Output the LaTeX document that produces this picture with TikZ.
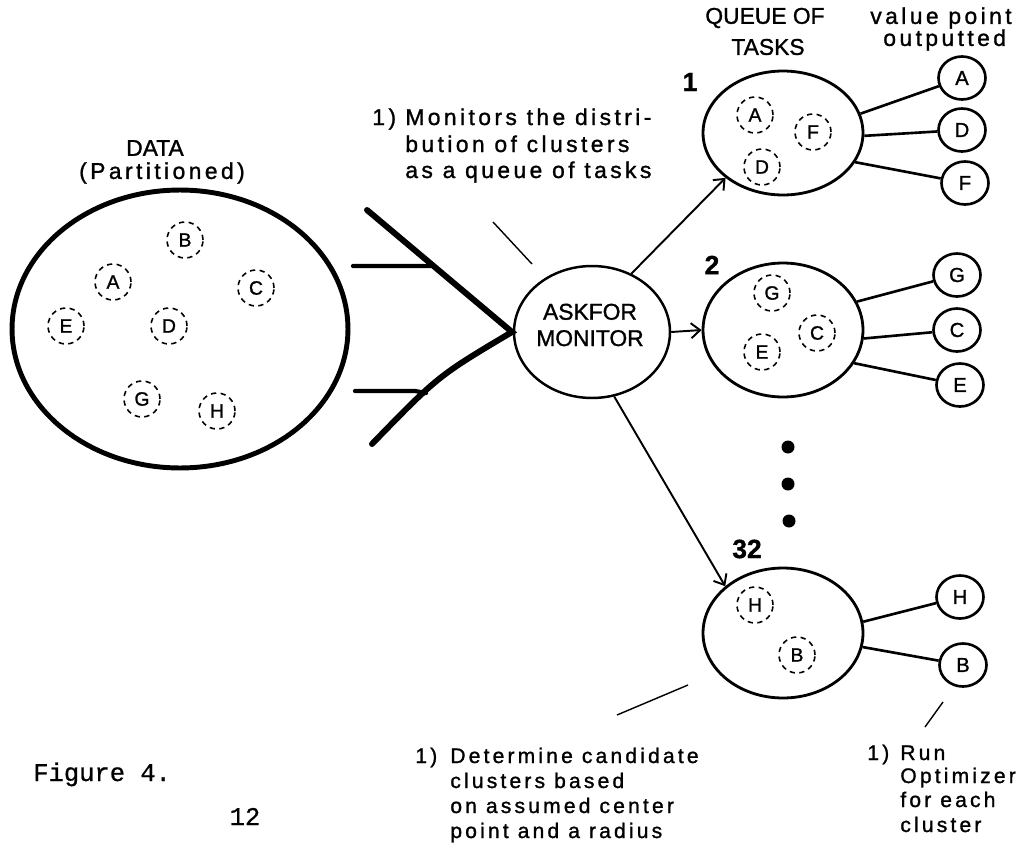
\documentclass[tikz,border=0pt]{standalone}
\usepackage{fontspec}
\setmainfont{Liberation Sans}[FakeBold=1.2]
\newfontfamily\spaced[LetterSpace=15,FakeBold=1.2]{Liberation Sans}
\newfontfamily\typew[FakeBold=0.8]{Liberation Mono}
\usetikzlibrary{shapes.geometric,arrows.meta,calc}
\begin{document}
\begin{tikzpicture}[x=0.02cm,y=-0.02cm,
  bigell/.style={ellipse,draw,line width=1.6pt,inner sep=0pt},
  clus/.style={circle,draw,dash pattern=on 3pt off 2.5pt,line width=0.9pt,minimum size=0.72cm,inner sep=0pt,font=\fontsize{11}{11}\selectfont},
  outc/.style={ellipse,draw,line width=1.5pt,minimum width=0.94cm,minimum height=0.86cm,inner sep=0pt,font=\fontsize{11.5}{11.5}\selectfont},
  link/.style={line width=1.5pt},
  arr/.style={line width=1.1pt,-{Straight Barb[length=1.8mm,width=3mm]}},
  callout/.style={line width=0.8pt},
  funnel/.style={line width=3.4pt,line cap=round},
  inflow/.style={line width=2.4pt,line cap=round},
  caps/.style={inner sep=0pt,font=\fontsize{13}{15}\selectfont},
  lab/.style={inner sep=0pt,anchor=base west,font=\spaced\fontsize{13}{13}\selectfont},
  labs/.style={inner sep=0pt,anchor=base west,font=\spaced\fontsize{12}{12}\selectfont},
  num/.style={inner sep=0pt,font=\bfseries\fontsize{15}{15}\selectfont},
  dotn/.style={circle,fill,inner sep=0pt,minimum size=0.26cm}
]
\useasboundingbox (0,0) rectangle (1025,852);

% ---- DATA ----
\node[caps] (datat) at (155,148) {DATA};
\node[inner sep=0pt,font=\spaced\fontsize{13}{13}\selectfont] (partt) at (162,173) {(Partitioned)};
\node[ellipse,draw,line width=2.8pt,minimum width=6.72cm,minimum height=5.56cm,inner sep=0pt] (data) at (180,329) {};
\node[clus] (dB) at (185,240) {B};
\node[clus] (dA) at (113,282) {A};
\node[clus] (dC) at (256,288) {C};
\node[clus] (dE) at (66,326) {E};
\node[clus] (dD) at (169,326) {D};
\node[clus] (dG) at (142,399) {G};
\node[clus] (dH) at (217,411) {H};

% ---- funnel ----
\coordinate (f1) at (367,210);
\coordinate (tip) at (512,332);
\coordinate (f2) at (372,444);
\draw[funnel,line join=miter] (f1) -- (tip) .. controls (438,376) .. (f2);
\coordinate (in1) at (353,266);
\coordinate (j1) at ($(f1)!0.46!(tip)$);
\coordinate (in2) at (355,391);
\coordinate (j2) at (426,393);
\draw[inflow] (in1) -- (j1);
\draw[inflow] (in2) -- (415,391) -- (j2);

% ---- monitor ----
\node[ellipse,draw,line width=1.4pt,minimum width=3.12cm,minimum height=2.64cm,inner sep=0pt] (monitor) at (592,332) {};
\node[caps,align=center] (monlab) at (590,325) {ASKFOR\\MONITOR};

% ---- top callout ----
\coordinate (c1a) at (493,222);
\coordinate (c1b) at (532,264);
\draw[callout] (c1a) -- (c1b);
\node[lab] (t1n) at (372,125) {1)};
\node[lab] (t1a) at (405,125) {Monitors the distri-};
\node[lab] (t1b) at (405,152) {bution of clusters};
\node[lab] (t1c) at (405,178) {as a queue of tasks};

% ---- headers ----
\node[caps] (qh1) at (765,18) {QUEUE OF};
\node[caps] (qh2) at (768,47) {TASKS};
\node[inner sep=0pt,font=\spaced\fontsize{13}{13}\selectfont] (vh1) at (941,18) {value point};
\node[inner sep=0pt,anchor=west,font=\spaced\fontsize{13}{13}\selectfont] (vh2) at (883,40) {outputted};

% ---- queue 1 ----
\node[bigell,minimum width=3.2cm,minimum height=2.48cm] (q1) at (783,133) {};
\node[num] (n1) at (690,82) {1};
\node[clus] (q1A) at (755,115) {A};
\node[clus] (q1F) at (813,132) {F};
\node[clus] (q1D) at (762,167) {D};
\node[outc] (o1A) at (962,78) {A};
\node[outc] (o1D) at (962,130) {D};
\node[outc] (o1F) at (965,183) {F};
\draw[link] (q1.14) -- (o1A);
\draw[link] (q1.-2) -- (o1D);
\draw[link] (q1.-22) -- (o1F);

% ---- queue 2 ----
\node[bigell,minimum width=3.2cm,minimum height=2.68cm] (q2) at (783,330) {};
\node[num] (n2) at (712,265) {2};
\node[clus] (q2G) at (772,293) {G};
\node[clus] (q2C) at (817,333) {C};
\node[clus] (q2E) at (762,352) {E};
\node[outc] (o2G) at (957,275) {G};
\node[outc] (o2C) at (957,330) {C};
\node[outc] (o2E) at (960,385) {E};
\draw[link] (q2.21) -- (o2G);
\draw[link] (q2.-6) -- (o2C);
\draw[link] (q2.-25) -- (o2E);

% ---- dots ----
\node[dotn] (dot1) at (788,447) {};
\node[dotn] (dot2) at (788,484) {};
\node[dotn] (dot3) at (789,521) {};

% ---- queue 32 ----
\node[bigell,minimum width=3.2cm,minimum height=2.6cm] (q32) at (783,633) {};
\node[num] (n32) at (747,549) {32};
\node[clus] (q3H) at (755,605) {H};
\node[clus] (q3B) at (797,655) {B};
\node[outc] (o3H) at (960,597) {H};
\node[outc] (o3B) at (963,665) {B};
\draw[link] (q32.8) -- (o3H);
\draw[link] (q32.-10) -- (o3B);

% ---- arrows from monitor ----
\draw[arr] (monitor.56) -- (q1.-142);
\draw[arr] (monitor.0) -- (q2.180);
\draw[arr] (monitor.-71) -- (q32.141);

% ---- bottom callouts ----
\coordinate (c2a) at (617,715);
\coordinate (c2b) at (688,685);
\draw[callout] (c2a) -- (c2b);
\node[labs] (b1n) at (415,763) {1)};
\node[labs] (b1a) at (450,763) {Determine candidate};
\node[labs] (b1b) at (450,788) {clusters based};
\node[labs] (b1c) at (450,813) {on assumed center};
\node[labs] (b1d) at (450,838) {point and a radius};

\coordinate (c3a) at (925,727);
\coordinate (c3b) at (943,702);
\draw[callout] (c3a) -- (c3b);
\node[labs] (b2n) at (867,760) {1)};
\node[labs] (b2a) at (900,760) {Run};
\node[labs] (b2b) at (900,783) {Optimizer};
\node[labs] (b2c) at (900,807) {for each};
\node[labs] (b2d) at (900,832) {cluster};

% ---- figure caption ----
\node[inner sep=0pt,anchor=base west,font=\typew\fontsize{14.5}{14.5}\selectfont] (fig) at (33,781) {Figure 4.};
\node[inner sep=0pt,anchor=base,font=\typew\fontsize{14.5}{14.5}\selectfont] (pg) at (245,825) {12};
\end{tikzpicture}
\end{document}
